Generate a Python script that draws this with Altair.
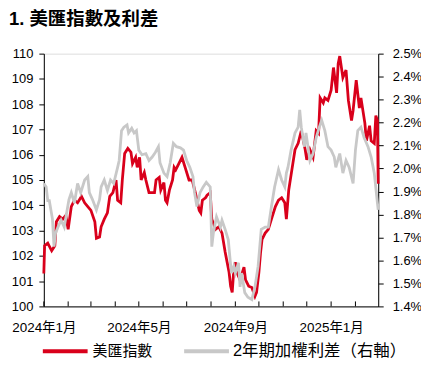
import altair as alt
import pandas as pd

# ---------------- data ----------------
dxy_dates = [
    "2024-01-01", "2024-01-02", "2024-01-06", "2024-01-11", "2024-01-15", "2024-01-17", "2024-01-21",
    "2024-01-25", "2024-01-29", "2024-02-01", "2024-02-05", "2024-02-09", "2024-02-13", "2024-02-18",
    "2024-02-22", "2024-02-26", "2024-03-01", "2024-03-06", "2024-03-08", "2024-03-12", "2024-03-14",
    "2024-03-18", "2024-03-22", "2024-03-25", "2024-03-29", "2024-04-02", "2024-04-04", "2024-04-08",
    "2024-04-10", "2024-04-13", "2024-04-17", "2024-04-21", "2024-04-23", "2024-04-27", "2024-04-29",
    "2024-05-02", "2024-05-04", "2024-05-08", "2024-05-10", "2024-05-14", "2024-05-21", "2024-05-23",
    "2024-05-27", "2024-05-29", "2024-06-02", "2024-06-04", "2024-06-06", "2024-06-09", "2024-06-13",
    "2024-06-15", "2024-06-17", "2024-06-21", "2024-06-25", "2024-06-30", "2024-07-04", "2024-07-08",
    "2024-07-12", "2024-07-17", "2024-07-19", "2024-07-21", "2024-07-25", "2024-07-27", "2024-07-31",
    "2024-08-02", "2024-08-07", "2024-08-11", "2024-08-15", "2024-08-19", "2024-08-24", "2024-08-26",
    "2024-08-28", "2024-08-30", "2024-09-01", "2024-09-03", "2024-09-07", "2024-09-12", "2024-09-14",
    "2024-09-18", "2024-09-22", "2024-09-26", "2024-09-28", "2024-10-01", "2024-10-03", "2024-10-05",
    "2024-10-09", "2024-10-13", "2024-10-17", "2024-10-22", "2024-10-26", "2024-10-30", "2024-11-03",
    "2024-11-05", "2024-11-08", "2024-11-12", "2024-11-16", "2024-11-20", "2024-11-24", "2024-11-29",
    "2024-12-01", "2024-12-05", "2024-12-09", "2024-12-13", "2024-12-16", "2024-12-18", "2024-12-22",
    "2024-12-24", "2024-12-28", "2025-01-01", "2025-01-04", "2025-01-08", "2025-01-10", "2025-01-12",
    "2025-01-16", "2025-01-20", "2025-01-23", "2025-01-27", "2025-01-29", "2025-02-02", "2025-02-06",
    "2025-02-08", "2025-02-13", "2025-02-15", "2025-02-19", "2025-02-21", "2025-02-25", "2025-02-27",
    "2025-03-01", "2025-03-02",
]
dxy_values = [
    101.3, 102.4, 102.5, 102.2, 102.4, 103.35, 103.55,
    103.45, 103.6, 103.05, 103.95, 104.2, 104.1, 104.35,
    104.1, 103.95, 103.8, 103.35, 102.7, 102.75, 103.15,
    103.45, 103.7, 104.35, 104.5, 105.0, 104.2, 104.1,
    105.0, 106.05, 106.25, 106.1, 105.65, 105.9, 105.5,
    105.9, 105.0, 105.3, 105.0, 104.5, 104.5, 105.0,
    105.1, 104.6, 104.9, 104.2, 104.1, 104.6, 105.0,
    105.5, 105.4, 105.65, 105.9, 105.4, 105.0, 105.0,
    104.5, 103.8, 103.7, 104.2, 104.3, 104.4, 104.5,
    103.45, 103.05, 103.15, 102.9, 102.15, 101.35, 100.8,
    100.55, 101.45, 101.75, 101.35, 101.05, 101.55, 101.05,
    100.8, 100.75, 100.4, 100.55, 101.35, 102.1, 102.65,
    102.9, 103.05, 103.45, 103.95, 104.2, 104.3, 104.1,
    103.45, 104.6, 105.4, 106.2, 106.45, 106.95, 106.2,
    105.8, 106.2, 105.9, 106.95, 106.85, 108.25, 108.05,
    108.25, 108.15, 108.55, 109.45, 108.45, 109.6, 109.9,
    109.05, 109.35, 108.15, 107.35, 107.75, 108.95, 107.85,
    108.25, 107.25, 106.55, 107.15, 106.55, 106.45, 107.55,
    107.35, 104.85,
]

spread_dates = [
    "2024-01-01", "2024-01-04", "2024-01-06", "2024-01-08", "2024-01-12", "2024-01-14", "2024-01-16",
    "2024-01-19", "2024-01-23", "2024-01-27", "2024-01-30", "2024-02-02", "2024-02-05", "2024-02-09",
    "2024-02-13", "2024-02-17", "2024-02-22", "2024-02-26", "2024-02-28", "2024-03-03", "2024-03-08",
    "2024-03-12", "2024-03-14", "2024-03-18", "2024-03-22", "2024-03-26", "2024-03-30", "2024-04-04",
    "2024-04-06", "2024-04-09", "2024-04-12", "2024-04-16", "2024-04-18", "2024-04-22", "2024-04-25",
    "2024-04-28", "2024-05-01", "2024-05-05", "2024-05-10", "2024-05-14", "2024-05-18", "2024-05-22",
    "2024-05-26", "2024-05-28", "2024-06-02", "2024-06-06", "2024-06-10", "2024-06-14", "2024-06-18",
    "2024-06-23", "2024-06-27", "2024-07-01", "2024-07-05", "2024-07-09", "2024-07-11", "2024-07-14",
    "2024-07-18", "2024-07-22", "2024-07-26", "2024-07-31", "2024-08-02", "2024-08-04", "2024-08-08",
    "2024-08-13", "2024-08-15", "2024-08-19", "2024-08-23", "2024-08-25", "2024-08-27", "2024-08-30",
    "2024-09-01", "2024-09-05", "2024-09-07", "2024-09-09", "2024-09-13", "2024-09-17", "2024-09-22",
    "2024-09-26", "2024-09-30", "2024-10-04", "2024-10-09", "2024-10-13", "2024-10-17", "2024-10-21",
    "2024-10-26", "2024-10-30", "2024-11-03", "2024-11-05", "2024-11-07", "2024-11-11", "2024-11-16",
    "2024-11-20", "2024-11-22", "2024-11-24", "2024-11-28", "2024-11-30", "2024-12-05", "2024-12-09",
    "2024-12-13", "2024-12-17", "2024-12-20", "2024-12-24", "2024-12-28", "2025-01-01", "2025-01-05",
    "2025-01-07", "2025-01-12", "2025-01-16", "2025-01-20", "2025-01-24", "2025-01-29", "2025-02-01",
    "2025-02-04", "2025-02-08", "2025-02-12", "2025-02-17", "2025-02-21", "2025-02-25", "2025-03-01",
    "2025-03-02",
]
spread_values = [
    1.935, 1.92, 1.86, 1.86, 1.78, 1.66, 1.72,
    1.745, 1.775, 1.745, 1.805, 1.865, 1.895, 1.85,
    1.935, 1.895, 1.95, 1.965, 1.895, 1.865, 1.82,
    1.865, 1.92, 1.95, 1.905, 1.95, 1.935, 2.005,
    2.035, 2.165, 2.18, 2.19, 2.155, 2.175, 2.155,
    2.165, 2.08, 2.06, 2.065, 2.035, 2.05, 2.07,
    2.095, 2.025, 1.98, 1.965, 2.025, 2.11, 2.095,
    2.09, 2.08, 2.035, 2.005, 1.965, 1.895, 1.835,
    1.895, 1.92, 1.94, 1.92, 1.66, 1.72, 1.79,
    1.745, 1.775, 1.735, 1.69, 1.615, 1.545, 1.575,
    1.545, 1.59, 1.485, 1.545, 1.46, 1.44, 1.43,
    1.485, 1.575, 1.735, 1.745, 1.745, 1.835, 1.92,
    1.995, 1.95, 1.92, 1.98, 2.005, 2.08, 2.155,
    2.18, 2.255, 2.18, 2.095, 2.155, 2.035, 2.065,
    2.135, 2.18, 2.21, 2.165, 2.095, 2.08, 2.05,
    2.005, 2.065, 1.98, 2.035, 2.005, 1.935, 2.08,
    2.165, 2.18, 2.135, 2.095, 2.05, 1.98, 1.85,
    1.82,
]

title_text = "1. 美匯指數及利差"
series_names = ["美匯指數", "2年期加權利差（右軸）"]
left_ticks = [100, 101, 102, 103, 104, 105, 106, 107, 108, 109, 110]
right_ticks = [1.4, 1.5, 1.6, 1.7, 1.8, 1.9, 2.0, 2.1, 2.2, 2.3, 2.4, 2.5]
month_starts = [
    "2024-01-01", "2024-02-01", "2024-03-01", "2024-04-01", "2024-05-01", "2024-06-01", "2024-07-01",
    "2024-08-01", "2024-09-01", "2024-10-01", "2024-11-01", "2024-12-01", "2025-01-01", "2025-02-01",
]

# ---------------- styling ----------------
FONT = "Liberation Sans, Arial, 'Noto Sans CJK TC'"
RED = "#d9001b"
GRAY = "#c8c8c8"
W, H = 336, 254

dxy_df = pd.DataFrame({"date": dxy_dates, "dxy": dxy_values})
spread_df = pd.DataFrame({"date": spread_dates, "spread": spread_values})
ticks_df = pd.DataFrame({"date": month_starts})


def dt(s):
    y, m, d = (int(v) for v in s.split("-"))
    return alt.DateTime(year=y, month=m, date=d, utc=True)


xscale = alt.Scale(type="utc", domain=[dt("2024-01-01"), dt("2025-03-02")])
major = [dt("2024-01-01"), dt("2024-05-01"), dt("2024-09-01"), dt("2025-01-01")]

axis_common = dict(
    title=None, grid=False, domainColor="black", tickColor="black", labelColor="black",
    labelFont=FONT, domainWidth=1, tickWidth=1,
)

x_axis = alt.Axis(values=major, labelExpr="utcFormat(datum.value, '%Y年%-m月')",
                  ticks=False, labelPadding=14, labelFlush=False, labelOverlap=False,
                  labelFontSize=13.5, **axis_common)
x_enc = alt.X("date:T", scale=xscale, axis=x_axis)

red_line = alt.Chart(dxy_df).mark_line(color=RED, strokeWidth=2.8).encode(
    x=x_enc,
    y=alt.Y("dxy:Q", scale=alt.Scale(domain=[100, 110], nice=False, zero=False),
            axis=alt.Axis(values=left_ticks, tickSize=5, labelPadding=6, orient="left",
                          labelFontSize=13, **axis_common)),
)

gray_line = alt.Chart(spread_df).mark_line(color=GRAY, strokeWidth=2.8).encode(
    x=x_enc,
    y=alt.Y("spread:Q", scale=alt.Scale(domain=[1.4, 2.5], nice=False, zero=False),
            axis=alt.Axis(values=right_ticks, orient="right", tickSize=5, labelPadding=9,
                          labelFontSize=13,
                          labelExpr="format(datum.value, '.1f') + '%'", **axis_common)),
)

minor_ticks = alt.Chart(ticks_df).mark_rule(color="black", strokeWidth=1).encode(
    x=x_enc,
    y=alt.value(H),
    y2=alt.value(H - 5),
)

title = alt.Chart(pd.DataFrame({"t": [title_text]})).mark_text(
    align="left", baseline="middle", font=FONT, fontSize=18.5, fontWeight="bold", color="black"
).encode(x=alt.value(-35), y=alt.value(-35), text="t:N")

legend_y = 299
leg_red_line = alt.Chart(pd.DataFrame({"k": [0]})).mark_rule(color=RED, strokeWidth=4).encode(
    x=alt.value(-1), x2=alt.value(44), y=alt.value(legend_y))
leg_red_text = alt.Chart(pd.DataFrame({"t": [series_names[0]]})).mark_text(
    align="left", baseline="middle", font=FONT, fontSize=15, color="black"
).encode(x=alt.value(49), y=alt.value(legend_y), text="t:N")
leg_gray_line = alt.Chart(pd.DataFrame({"k": [0]})).mark_rule(color=GRAY, strokeWidth=4).encode(
    x=alt.value(141), x2=alt.value(186), y=alt.value(legend_y))
leg_gray_text = alt.Chart(pd.DataFrame({"t": [series_names[1]]})).mark_text(
    align="left", baseline="middle", font=FONT, fontSize=16.5, color="black"
).encode(x=alt.value(190), y=alt.value(legend_y), text="t:N")

chart = alt.layer(
    red_line, gray_line, minor_ticks, title,
    leg_red_line, leg_red_text, leg_gray_line, leg_gray_text,
).resolve_scale(y="independent").properties(
    width=W, height=H,
    padding={"left": 36, "top": 45, "right": 43, "bottom": 52},
    autosize=alt.AutoSizeParams(type="none"),
).configure_view(stroke=None).configure(background="white")

chart.save("out.html", embed_options={"renderer": "svg", "actions": False})
